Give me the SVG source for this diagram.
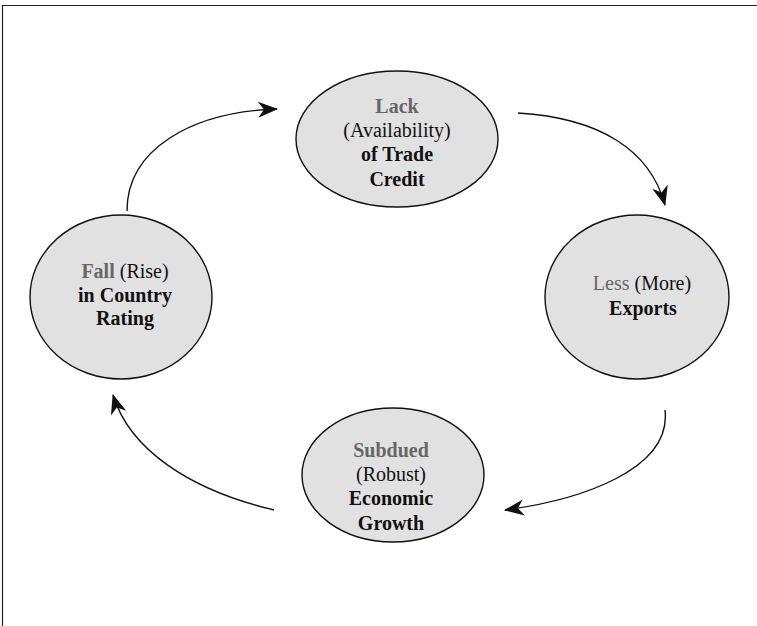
<svg xmlns="http://www.w3.org/2000/svg" width="757" height="626" viewBox="0 0 757 626">
<style>
.bg{fill:#fff}
.frame{fill:none;stroke:#222;stroke-width:1.2}
.node ellipse{fill:#e1e1e1;stroke:#111;stroke-width:1.4}
.node text{font-family:"Liberation Serif","DejaVu Serif","Noto Serif",serif;font-size:20px;text-anchor:middle;fill:#111}
.g{fill:#666;font-weight:bold}
.b{font-weight:bold}
.conn path{fill:none;stroke:#111;stroke-width:1.4;marker-end:url(#ah)}
</style>
<defs>
<marker id="ah" markerUnits="userSpaceOnUse" viewBox="-20 -10 22 20" refX="0" refY="0" markerWidth="22" markerHeight="20" orient="auto">
<path d="M1,0 L-19,-8 L-13,0 L-19,8 Z" fill="#111"/>
</marker>
</defs>
<rect class="bg" x="0" y="0" width="757" height="626"/>
<path class="frame" d="M2.5,626 V5.5 H757"/>
<g class="conn" id="connectors">
<path d="M127,211 C127,150 190,112 277,109"/>
<path d="M518,113 C600,118 650,150 665,205"/>
<path d="M665,410 C672,470 580,500 505,510"/>
<path d="M274,510 C190,490 130,450 113,395"/>
</g>
<g class="node" id="lack">
<ellipse cx="397" cy="139" rx="101" ry="68"/>
<text x="397" y="113"><tspan class="g">Lack</tspan></text>
<text x="397" y="137">(Availability)</text>
<text x="397" y="161" class="b">of Trade</text>
<text x="397" y="186" class="b">Credit</text>
</g>
<g class="node" id="exports">
<ellipse cx="637" cy="297" rx="92" ry="82"/>
<text x="642" y="290"><tspan fill="#666">Less</tspan> (More)</text>
<text x="643" y="315" class="b">Exports</text>
</g>
<g class="node" id="growth">
<ellipse cx="393" cy="475" rx="91" ry="67"/>
<text x="391" y="457"><tspan class="g">Subdued</tspan></text>
<text x="391" y="481">(Robust)</text>
<text x="391" y="505" class="b">Economic</text>
<text x="391" y="530" class="b">Growth</text>
</g>
<g class="node" id="rating">
<ellipse cx="121" cy="297" rx="91" ry="82"/>
<text x="125" y="278"><tspan class="g">Fall</tspan> (Rise)</text>
<text x="125" y="302" class="b">in Country</text>
<text x="125" y="325" class="b">Rating</text>
</g>
</svg>
